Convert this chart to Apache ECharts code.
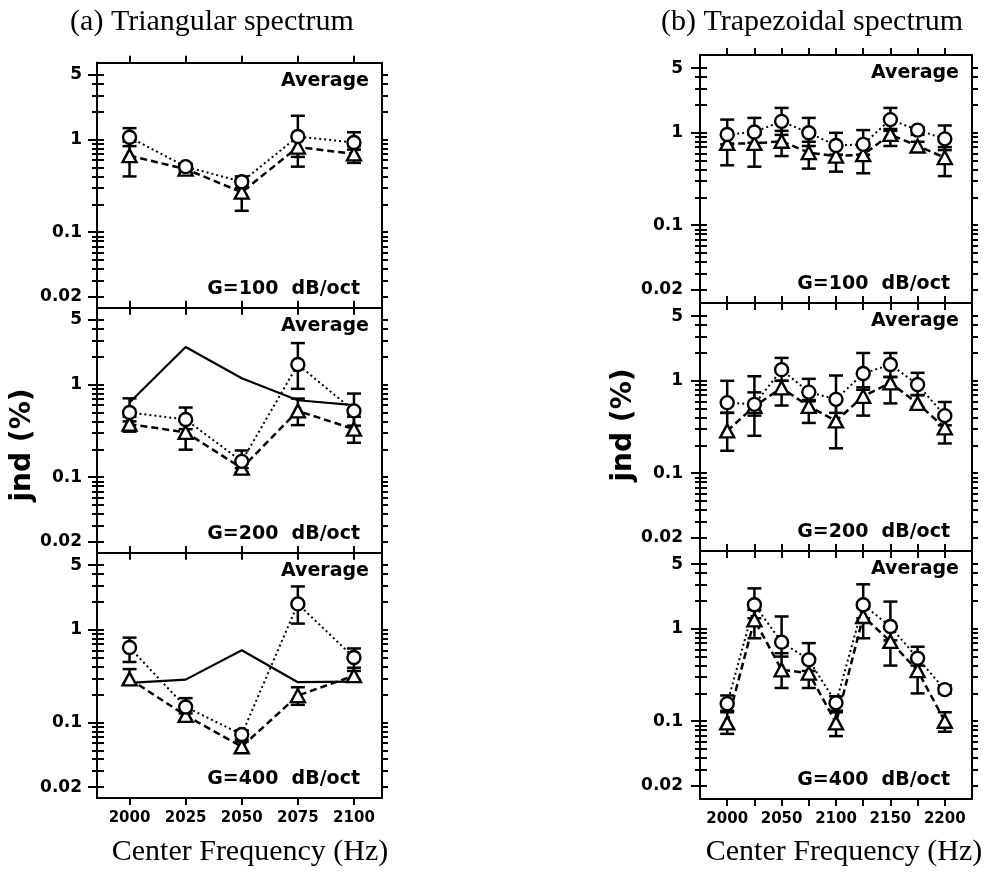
<!DOCTYPE html>
<html><head><meta charset="utf-8">
<script src="https://cdn.jsdelivr.net/npm/echarts@6/dist/echarts.min.js"></script>
<style>html,body{margin:0;padding:0;background:#fff}#c{width:993px;height:886px}</style>
</head><body><div id="c"></div>
<script>
// ---------- data ----------
const freqTri = [2000, 2025, 2050, 2075, 2100];
const freqTrap = [2000, 2025, 2050, 2075, 2100, 2125, 2150, 2175, 2200];
const xLabelsTri = [2000, 2025, 2050, 2075, 2100];
const xLabelsTrap = [2000, 2050, 2100, 2150, 2200];
const yTickLabels = [0.02, 0.1, 1, 5];
const yMinorTicks = [0.03, 0.04, 0.05, 0.06, 0.07, 0.08, 0.09, 0.2, 0.3, 0.4, 0.5, 0.6, 0.7, 0.8, 0.9, 2, 3, 4];
const yAllTicks = [0.02, 0.03, 0.04, 0.05, 0.06, 0.07, 0.08, 0.09, 0.1, 0.2, 0.3, 0.4, 0.5, 0.6, 0.7, 0.8, 0.9, 1, 2, 3, 4, 5];

// (a) Triangular, G=100
const triG100Circ   = [1.06, 0.51, 0.35, 1.08, 0.93];
const triG100CircLo = [0.85, 0.47, 0.30, 0.65, 0.78];
const triG100CircHi = [1.33, 0.55, 0.40, 1.81, 1.20];
const triG100Tri    = [0.67, 0.48, 0.27, 0.83, 0.70];
const triG100TriLo  = [0.40, 0.44, 0.17, 0.51, 0.56];
const triG100TriHi  = [0.95, 0.52, 0.34, 1.10, 0.85];
// (a) Triangular, G=200
const triG200Circ   = [0.50, 0.42, 0.148, 1.65, 0.52];
const triG200CircLo = [0.40, 0.33, 0.125, 0.90, 0.36];
const triG200CircHi = [0.71, 0.565, 0.194, 2.81, 0.80];
const triG200Tri    = [0.374, 0.305, 0.125, 0.52, 0.33];
const triG200TriLo  = [0.31, 0.198, 0.113, 0.365, 0.235];
const triG200TriHi  = [0.45, 0.40, 0.14, 0.706, 0.45];
const triG200Line   = [0.64, 2.55, 1.17, 0.677, 0.60];
// (a) Triangular, G=400
const triG400Circ   = [0.645, 0.147, 0.074, 1.91, 0.503];
const triG400CircLo = [0.45, 0.125, 0.065, 1.17, 0.39];
const triG400CircHi = [0.825, 0.183, 0.082, 2.95, 0.63];
const triG400Tri    = [0.295, 0.119, 0.0546, 0.195, 0.32];
const triG400TriLo  = [0.265, 0.105, 0.048, 0.155, 0.29];
const triG400TriHi  = [0.377, 0.135, 0.062, 0.24, 0.36];
const triG400Line   = [0.267, 0.29, 0.603, 0.272, 0.276];

// (b) Trapezoidal, G=100
const trapG100Circ   = [0.96, 1.02, 1.33, 1.00, 0.73, 0.75, 1.39, 1.07, 0.86];
const trapG100CircLo = [0.75, 0.78, 0.95, 0.72, 0.58, 0.58, 1.05, 0.95, 0.65];
const trapG100CircHi = [1.39, 1.45, 1.86, 1.45, 1.00, 1.07, 1.86, 1.15, 1.20];
const trapG100Tri    = [0.767, 0.767, 0.81, 0.61, 0.56, 0.58, 0.96, 0.72, 0.54];
const trapG100TriLo  = [0.445, 0.43, 0.56, 0.41, 0.38, 0.365, 0.72, 0.63, 0.34];
const trapG100TriHi  = [0.95, 0.95, 1.05, 0.80, 0.70, 0.72, 1.10, 0.80, 0.70];
// (b) Trapezoidal, G=200
const trapG200Circ   = [0.58, 0.556, 1.32, 0.755, 0.63, 1.20, 1.50, 0.91, 0.42];
const trapG200CircLo = [0.45, 0.42, 1.00, 0.60, 0.45, 0.80, 1.10, 0.70, 0.33];
const trapG200CircHi = [1.00, 1.12, 1.77, 1.05, 1.14, 2.00, 2.00, 1.22, 0.59];
const trapG200Tri    = [0.287, 0.53, 0.84, 0.53, 0.368, 0.68, 0.95, 0.57, 0.31];
const trapG200TriLo  = [0.175, 0.254, 0.54, 0.35, 0.186, 0.42, 0.57, 0.52, 0.21];
const trapG200TriHi  = [0.45, 0.75, 1.00, 0.62, 0.62, 0.85, 1.10, 0.70, 0.40];
// (b) Trapezoidal, G=400
const trapG400Circ   = [0.155, 1.82, 0.717, 0.463, 0.158, 1.82, 1.06, 0.48, 0.22];
const trapG400CircLo = [0.13, 1.30, 0.50, 0.35, 0.13, 1.30, 0.75, 0.40, 0.20];
const trapG400CircHi = [0.19, 2.74, 1.36, 0.70, 0.186, 3.03, 1.97, 0.64, 0.245];
const trapG400Tri    = [0.096, 1.25, 0.36, 0.332, 0.096, 1.36, 0.73, 0.353, 0.10];
const trapG400TriLo  = [0.073, 0.79, 0.229, 0.229, 0.069, 0.79, 0.40, 0.20, 0.077];
const trapG400TriHi  = [0.125, 1.60, 0.545, 0.45, 0.125, 1.70, 1.00, 0.50, 0.125];

const panelTexts = ['G=100  dB/oct', 'G=200  dB/oct', 'G=400  dB/oct'];

// ---------- layout ----------
const LEFT = {left: 97, width: 285, tops: [62.7, 307.7, 553], height: 245, xmin: 1985.5, xmax: 2112.5, ymin: 0.01524, ymax: 6.78, labelMargin: 15};
const RIGHT = {left: 700, width: 272, tops: [55, 303, 551], height: 248, xmin: 1975, xmax: 2225, ymin: 0.0144, ymax: 6.95, labelMargin: 17};

const grids = [], xAxes = [], yAxes = [], series = [], graphics = [];
const BLACK = '#000';
const plotFont = 'DejaVu Sans';

function fmtY(v) { return String(+Number(v).toPrecision(3)); }
function fmtX(v) { return String(Math.round(Number(v))); }

function addPanel(L, row, freq, xTicks, xLabels, circ, circLo, circHi, tri, triLo, triHi, line, text) {
  const gi = grids.length;
  const top = L.tops[row];
  grids.push({left: L.left, top: top, width: L.width, height: L.height, containLabel: false, outerBoundsMode: 'none'});
  const axisLine = {show: true, onZero: false, lineStyle: {color: BLACK, width: 2}};
  const xb = xAxes.length;
  const showX = row === 2;
  xAxes.push({type: 'value', gridIndex: gi, position: 'bottom', min: L.xmin, max: L.xmax,
    axisLine: axisLine, splitLine: {show: false},
    axisTick: {show: true, inside: false, length: 7, lineStyle: {color: BLACK, width: 2}, customValues: xTicks},
    axisLabel: {show: showX, customValues: xLabels, formatter: fmtX, margin: 13, color: BLACK, fontFamily: plotFont, fontWeight: 'bold', fontSize: 15}});
  xAxes.push({type: 'value', gridIndex: gi, position: 'top', min: L.xmin, max: L.xmax,
    axisLine: axisLine, splitLine: {show: false},
    axisTick: {show: true, inside: false, length: 7, lineStyle: {color: BLACK, width: 2}, customValues: xTicks},
    axisLabel: {show: false}});
  const yb = yAxes.length;
  const yCommon = {type: 'log', logBase: 10, gridIndex: gi, min: L.ymin, max: L.ymax, axisLine: axisLine, splitLine: {show: false}};
  yAxes.push(Object.assign({}, yCommon, {position: 'left',
    axisTick: {show: true, inside: false, length: 9, lineStyle: {color: BLACK, width: 2}, customValues: yTickLabels},
    axisLabel: {show: true, customValues: yTickLabels, formatter: fmtY, margin: L.labelMargin, color: BLACK, fontFamily: plotFont, fontWeight: 'bold', fontSize: 17}}));
  yAxes.push(Object.assign({}, yCommon, {position: 'left',
    axisTick: {show: true, inside: true, length: 7, lineStyle: {color: BLACK, width: 2}, customValues: yAllTicks},
    axisLabel: {show: false}}));
  yAxes.push(Object.assign({}, yCommon, {position: 'left',
    axisTick: {show: true, inside: false, length: 5, lineStyle: {color: BLACK, width: 2}, customValues: yMinorTicks},
    axisLabel: {show: false}}));
  yAxes.push(Object.assign({}, yCommon, {position: 'right',
    axisTick: {show: true, inside: false, length: 6, lineStyle: {color: BLACK, width: 2}, customValues: yAllTicks},
    axisLabel: {show: false}}));

  const errSeries = (lo, hi) => ({
    type: 'custom', xAxisIndex: xb, yAxisIndex: yb, z: 1, silent: true,
    data: freq.map((f, i) => [f, lo[i], hi[i]]),
    encode: {x: 0, y: [1, 2]},
    renderItem: function (params, api) {
      const x = api.value(0);
      const a = api.coord([x, api.value(1)]);
      const b = api.coord([x, api.value(2)]);
      const hw = 7;
      const st = {stroke: BLACK, lineWidth: 2.5, fill: null};
      return {type: 'group', children: [
        {type: 'line', shape: {x1: a[0], y1: a[1], x2: b[0], y2: b[1]}, style: st},
        {type: 'line', shape: {x1: a[0] - hw, y1: a[1], x2: a[0] + hw, y2: a[1]}, style: st},
        {type: 'line', shape: {x1: b[0] - hw, y1: b[1], x2: b[0] + hw, y2: b[1]}, style: st}
      ]};
    }
  });
  series.push(errSeries(circLo, circHi));
  series.push(errSeries(triLo, triHi));
  if (line) {
    series.push({type: 'line', xAxisIndex: xb, yAxisIndex: yb, z: 2, silent: true, symbol: 'none',
      data: freq.map((f, i) => [f, line[i]]),
      lineStyle: {color: BLACK, width: 2.2, type: 'solid'}});
  }
  series.push({type: 'line', xAxisIndex: xb, yAxisIndex: yb, z: 3, silent: true,
    data: freq.map((f, i) => [f, tri[i]]),
    symbol: 'triangle', symbolSize: [14, 13],
    itemStyle: {color: '#fff', borderColor: BLACK, borderWidth: 2.4},
    lineStyle: {color: BLACK, width: 2.5, type: [7, 4]}});
  series.push({type: 'line', xAxisIndex: xb, yAxisIndex: yb, z: 4, silent: true,
    data: freq.map((f, i) => [f, circ[i]]),
    symbol: 'circle', symbolSize: 13,
    itemStyle: {color: '#fff', borderColor: BLACK, borderWidth: 2.4},
    lineStyle: {color: BLACK, width: 2, type: [2, 3]}});

  const right = L.left + L.width;
  graphics.push({type: 'text', x: right - 13, y: top + 18, z: 10,
    style: {text: 'Average', align: 'right', verticalAlign: 'middle', fill: BLACK, font: 'bold 19px "DejaVu Sans"'}});
  graphics.push({type: 'text', x: right - 22, y: top + L.height - 19, z: 10,
    style: {text: text, align: 'right', verticalAlign: 'middle', fill: BLACK, font: 'bold 19px "DejaVu Sans"'}});
}

addPanel(LEFT, 0, freqTri, freqTri, xLabelsTri, triG100Circ, triG100CircLo, triG100CircHi, triG100Tri, triG100TriLo, triG100TriHi, null, panelTexts[0]);
addPanel(LEFT, 1, freqTri, freqTri, xLabelsTri, triG200Circ, triG200CircLo, triG200CircHi, triG200Tri, triG200TriLo, triG200TriHi, triG200Line, panelTexts[1]);
addPanel(LEFT, 2, freqTri, freqTri, xLabelsTri, triG400Circ, triG400CircLo, triG400CircHi, triG400Tri, triG400TriLo, triG400TriHi, triG400Line, panelTexts[2]);
addPanel(RIGHT, 0, freqTrap, freqTrap, xLabelsTrap, trapG100Circ, trapG100CircLo, trapG100CircHi, trapG100Tri, trapG100TriLo, trapG100TriHi, null, panelTexts[0]);
addPanel(RIGHT, 1, freqTrap, freqTrap, xLabelsTrap, trapG200Circ, trapG200CircLo, trapG200CircHi, trapG200Tri, trapG200TriLo, trapG200TriHi, null, panelTexts[1]);
addPanel(RIGHT, 2, freqTrap, freqTrap, xLabelsTrap, trapG400Circ, trapG400CircLo, trapG400CircHi, trapG400Tri, trapG400TriLo, trapG400TriHi, null, panelTexts[2]);

const serif = '"Liberation Serif", "Times New Roman", serif';
graphics.push({type: 'text', x: 212, y: 22, style: {text: '(a) Triangular spectrum', align: 'center', verticalAlign: 'middle', fill: BLACK, font: '30px ' + serif}});
graphics.push({type: 'text', x: 812, y: 22, style: {text: '(b) Trapezoidal spectrum', align: 'center', verticalAlign: 'middle', fill: BLACK, font: '30px ' + serif}});
graphics.push({type: 'text', x: 250, y: 852, style: {text: 'Center Frequency (Hz)', align: 'center', verticalAlign: 'middle', fill: BLACK, font: '30px ' + serif}});
graphics.push({type: 'text', x: 844, y: 852, style: {text: 'Center Frequency (Hz)', align: 'center', verticalAlign: 'middle', fill: BLACK, font: '30px ' + serif}});
graphics.push({type: 'text', x: 23, y: 445, rotation: Math.PI / 2, style: {text: 'jnd (%)', align: 'center', verticalAlign: 'middle', fill: BLACK, font: 'bold 28px "DejaVu Sans"'}});
graphics.push({type: 'text', x: 624, y: 425, rotation: Math.PI / 2, style: {text: 'jnd (%)', align: 'center', verticalAlign: 'middle', fill: BLACK, font: 'bold 28px "DejaVu Sans"'}});

const chart = echarts.init(document.getElementById('c'), null, {renderer: 'canvas'});
chart.setOption({
  backgroundColor: '#fff',
  animation: false,
  grid: grids,
  xAxis: xAxes,
  yAxis: yAxes,
  series: series,
  graphic: graphics
});
</script></body></html>
